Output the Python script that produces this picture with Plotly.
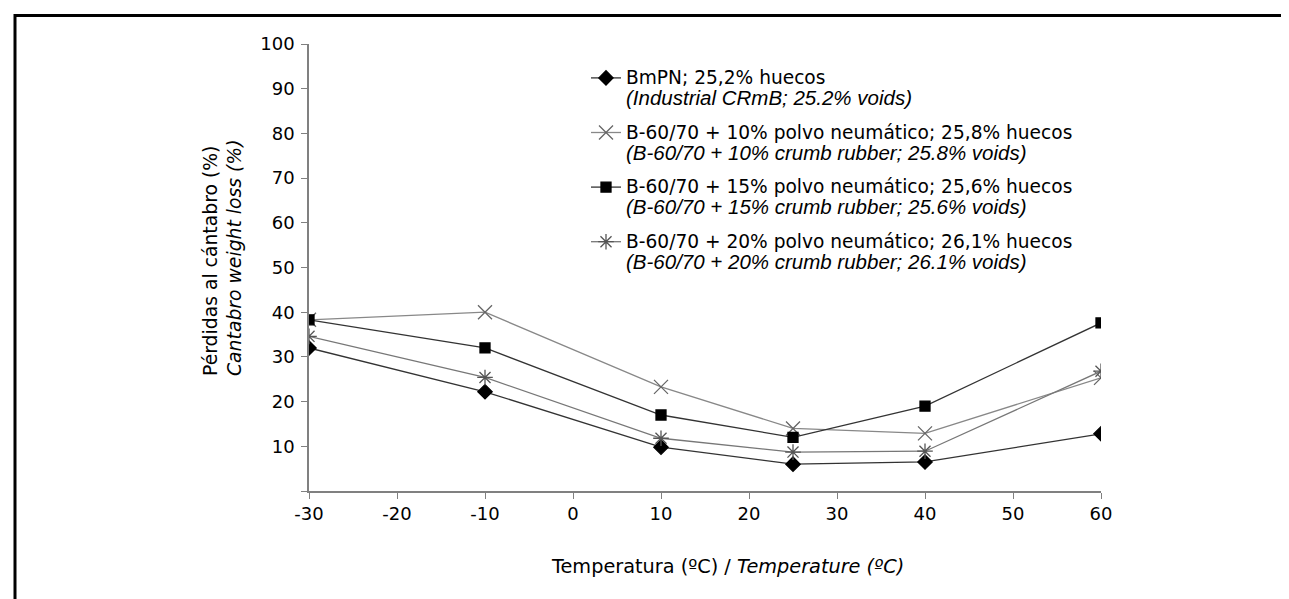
import plotly.graph_objects as go

# ---- data ----
temperatures = [-30, -10, 10, 25, 40, 60]
bmpn = [32, 22.2, 9.8, 6.0, 6.5, 12.8]
b10 = [38.3, 40.0, 23.3, 14.0, 12.9, 25.3]
b15 = [38.3, 32.0, 17.0, 12.0, 19.0, 37.6]
b20 = [34.6, 25.4, 11.8, 8.7, 8.9, 26.8]

names = [
    "BmPN; 25,2% huecos",
    "B-60/70 + 10% polvo neumático; 25,8% huecos",
    "B-60/70 + 15% polvo neumático; 25,6% huecos",
    "B-60/70 + 20% polvo neumático; 26,1% huecos",
]
names_en = [
    "(Industrial CRmB; 25.2% voids)",
    "(B-60/70 + 10% crumb rubber; 25.8% voids)",
    "(B-60/70 + 15% crumb rubber; 25.6% voids)",
    "(B-60/70 + 20% crumb rubber; 26.1% voids)",
]
x_ticks = [-30, -20, -10, 0, 10, 20, 30, 40, 50, 60]
x_ticktext = ["-30", "-20", "-10", "0", "10", "20", "30", "40", "50", "60"]
y_ticks = [0, 10, 20, 30, 40, 50, 60, 70, 80, 90, 100]
y_ticktext = ["", "10", "20", "30", "40", "50", "60", "70", "80", "90", "100"]

series = [bmpn, b10, b15, b20]
symbols = ["diamond", "x-thin-open", "square", "asterisk-open"]
marker_colors = ["#000000", "#666666", "#000000", "#555555"]
line_colors = ["#333333", "#888888", "#333333", "#777777"]
marker_sizes = [11, 14, 10, 13]

# ---- layout geometry (pixels) ----
W, H = 1289, 599
L, R, T, B = 301, 1093, 36, 483


def px_x(p):
    return (p - L) / (R - L)


def px_y(p):
    return (B - p) / (B - T)


fig = go.Figure()
for i, ys in enumerate(series):
    label = (
        f"<span style='font-size:18.6px'>{names[i]}</span><br>"
        f"<span style='font-family:Liberation Sans;font-size:20.5px'><i>{names_en[i]}</i></span>"
    )
    fig.add_trace(
        go.Scatter(
            x=temperatures,
            y=ys,
            mode="lines+markers",
            name=label,
            legendgroup=f"g{i}",
            line=dict(color=line_colors[i], width=1.3),
            marker=dict(
                symbol=symbols[i],
                size=marker_sizes[i],
                color=marker_colors[i],
                line=dict(color=marker_colors[i], width=1.3),
            ),
        )
    )

axis_font = dict(family="DejaVu Sans", size=18, color="#000000")

fig.update_layout(
    width=W,
    height=H,
    margin=dict(l=L, r=W - R, t=T, b=H - B, pad=0),
    paper_bgcolor="white",
    plot_bgcolor="white",
    font=dict(family="DejaVu Sans", color="#000000"),
    showlegend=True,
    legend=dict(
        x=px_x(578),
        y=px_y(53),
        xanchor="left",
        yanchor="top",
        valign="top",
        traceorder="grouped",
        tracegroupgap=10,
        font=dict(family="DejaVu Sans", size=16, color="#000000"),
        bgcolor="rgba(0,0,0,0)",
        itemwidth=30,
    ),
    xaxis=dict(
        range=[-30, 60],
        tickvals=x_ticks,
        ticktext=x_ticktext,
        ticks="outside",
        ticklen=6,
        tickcolor="#808080",
        showline=True,
        linecolor="#808080",
        linewidth=1.5,
        showgrid=False,
        zeroline=False,
        tickfont=axis_font,
    ),
    yaxis=dict(
        range=[0, 100],
        tickvals=y_ticks,
        ticktext=y_ticktext,
        ticks="outside",
        ticklen=6,
        tickcolor="#808080",
        showline=True,
        linecolor="#808080",
        linewidth=1.5,
        showgrid=False,
        zeroline=False,
        tickfont=axis_font,
        ticklabelstandoff=3,
    ),
    annotations=[
        dict(
            text="Temperatura (ºC) / <i>Temperature (ºC)</i>",
            xref="paper",
            yref="paper",
            x=px_x(719),
            y=px_y(558),
            xanchor="center",
            yanchor="middle",
            showarrow=False,
            font=dict(family="DejaVu Sans", size=19.3, color="#000000"),
        ),
        dict(
            text="Pérdidas al cántabro (%)<br><i>Cantabro weight loss (%)</i>",
            xref="paper",
            yref="paper",
            x=px_x(214),
            y=px_y(250),
            xanchor="center",
            yanchor="middle",
            textangle=-90,
            align="left",
            showarrow=False,
            font=dict(family="DejaVu Sans", size=18.8, color="#000000"),
        ),
    ],
    shapes=[
        dict(
            type="rect",
            xref="paper",
            yref="paper",
            x0=px_x(7),
            x1=px_x(1310),
            y0=px_y(620),
            y1=px_y(7.5),
            line=dict(color="#000000", width=3),
            fillcolor="rgba(0,0,0,0)",
            layer="below",
        )
    ],
)

fig.write_html("out.html")
